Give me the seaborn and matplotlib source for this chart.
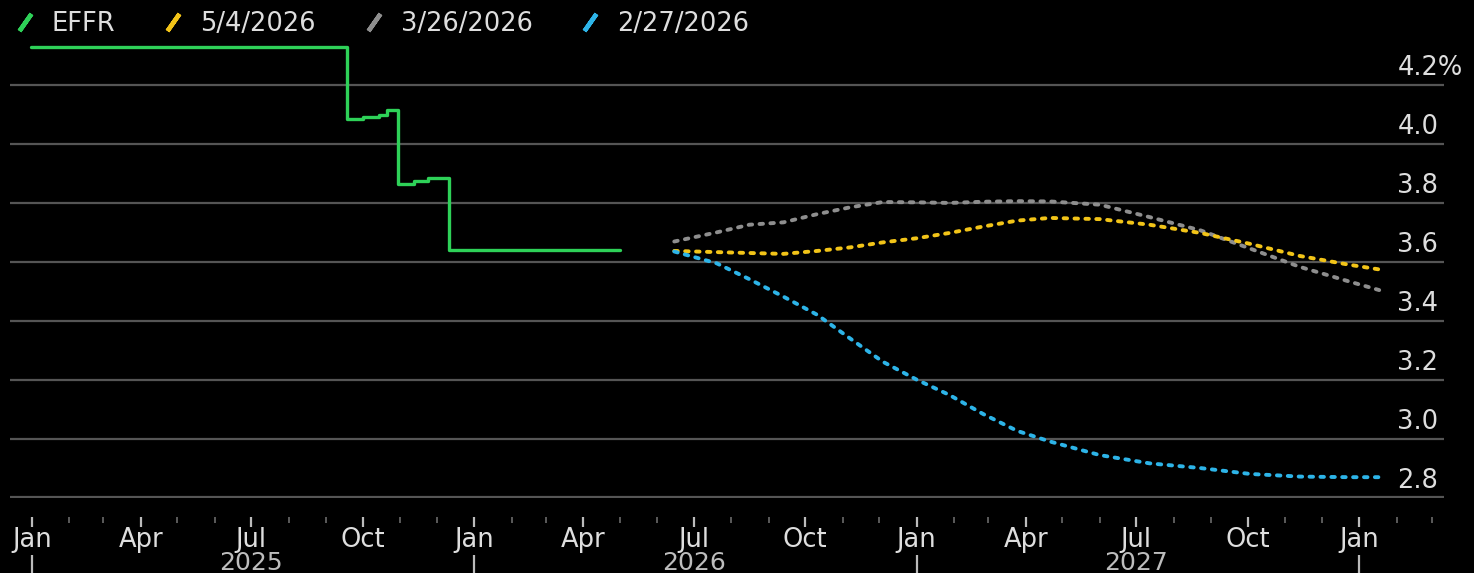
import pandas as pd
import seaborn as sns
import matplotlib.pyplot as plt
import matplotlib.dates as mdates
from matplotlib.lines import Line2D

# effective fed funds rate (step series)
effr_dates = ['2024-12-31', '2025-09-18', '2025-10-01', '2025-10-14', '2025-10-21',
              '2025-10-30', '2025-11-12', '2025-11-24', '2025-12-11', '2026-05-01']
effr_values = [4.33, 4.085, 4.09, 4.10, 4.115, 3.865, 3.875, 3.885, 3.64, 3.64]

# implied policy rate paths, priced on three dates
fwd_dates = ['2026-06-15', '2026-07-20', '2026-08-16', '2026-09-13', '2026-10-11',
             '2026-11-07', '2026-12-04', '2027-01-01', '2027-01-28', '2027-02-25',
             '2027-03-25', '2027-04-21', '2027-06-01', '2027-07-12', '2027-08-23',
             '2027-10-03', '2027-11-13', '2027-12-24', '2028-01-21']
fwd_0504 = [3.637, 3.633, 3.630, 3.627, 3.637, 3.649, 3.666, 3.680, 3.698, 3.720,
            3.740, 3.749, 3.745, 3.726, 3.698, 3.661, 3.620, 3.590, 3.572]
fwd_0326 = [3.669, 3.700, 3.726, 3.734, 3.762, 3.785, 3.803, 3.802, 3.800, 3.804,
            3.806, 3.805, 3.794, 3.752, 3.707, 3.645, 3.583, 3.533, 3.500]
fwd_0227 = [3.635, 3.595, 3.541, 3.482, 3.420, 3.340, 3.261, 3.200, 3.148, 3.083,
            3.026, 2.990, 2.944, 2.916, 2.900, 2.880, 2.871, 2.869, 2.869]

series_labels = ['EFFR', '5/4/2026', '3/26/2026', '2/27/2026']
series_colors = ['#2ed158', '#f2c418', '#8e8e8e', '#2db4e8']
y_ticks = [2.8, 3.0, 3.2, 3.4, 3.6, 3.8, 4.0, 4.2]
years = [2025, 2026, 2027]

sns.set_style('dark', {'axes.facecolor': 'black', 'figure.facecolor': 'black'})
plt.rcParams['font.family'] = ['DejaVu Sans']
txt = '#dedede'

fig = plt.figure(figsize=(14.74, 5.73), dpi=100, facecolor='black')
ax = fig.add_axes([10 / 1474, 1 - 497.5 / 573, 1434 / 1474, 462.5 / 573])
ax.set_facecolor('black')

effr = pd.DataFrame({'date': pd.to_datetime(effr_dates), 'rate': effr_values})
sns.lineplot(data=effr, x='date', y='rate', ax=ax, color=series_colors[0],
             lw=2.4, drawstyle='steps-post', estimator=None)

fd = pd.to_datetime(fwd_dates)
for vals, c in zip([fwd_0326, fwd_0504, fwd_0227],
                   [series_colors[2], series_colors[1], series_colors[3]]):
    sns.lineplot(x=fd, y=vals, ax=ax, color=c, lw=2.8, estimator=None,
                 linestyle=(0, (0.9, 1.9)), dash_capstyle='round')

ax.set_xlim(pd.Timestamp('2024-12-14'), pd.Timestamp('2028-03-11'))
ax.set_ylim(2.8, 4.37)
ax.set_xlabel('')
ax.set_ylabel('')

# horizontal grid + labels sitting above each line on the right
ax.set_yticks(y_ticks)
ax.tick_params(axis='y', left=False, right=False, labelleft=False)
ax.grid(axis='y', color='#555555', lw=1.6)
ax.grid(axis='x', visible=False)
for v in y_ticks:
    lab = f'{v:.1f}%' if v == y_ticks[-1] else f'{v:.1f}'
    ax.annotate(lab, xy=(0.9675, v), xycoords=('axes fraction', 'data'),
                xytext=(0, 12), textcoords='offset points', ha='left', va='center',
                fontsize=18.5, color=txt)

for s in ax.spines.values():
    s.set_visible(False)
ax.spines['bottom'].set_position(('outward', 14))

ax.xaxis.set_major_locator(mdates.MonthLocator(bymonth=[1, 4, 7, 10]))
ax.xaxis.set_minor_locator(mdates.MonthLocator())
ax.xaxis.set_major_formatter(mdates.DateFormatter('%b'))
ax.tick_params(axis='x', which='both', bottom=True, direction='out')
ax.tick_params(axis='x', which='major', length=7, width=1.6, color='#bbbbbb',
               labelsize=18.5, labelcolor=txt, pad=0)
ax.tick_params(axis='x', which='minor', length=4, width=1.2, color='#6a6a6a')

# year row
xt = ax.get_xaxis_transform()
for y in years:
    ax.text(mdates.date2num(pd.Timestamp(f'{y}-07-01')), -0.142, str(y), transform=xt,
            ha='center', va='center', fontsize=18, color='#bdbdbd')
ax.vlines([mdates.date2num(pd.Timestamp(f'{y}-01-01')) for y in years + [years[-1] + 1]],
          -0.125, -0.17, transform=xt, clip_on=False, colors='#bbbbbb', lw=1.6)

handles = [Line2D([], [], color=c, marker=(2, 2, -35), markersize=15,
                  markeredgewidth=3.2, linestyle='None') for c in series_colors]
fig.legend(handles, series_labels, loc='upper left', bbox_to_anchor=(-0.004, 1.012),
           ncol=4, frameon=False, fontsize=18.5, labelcolor=txt, handlelength=1.0,
           handletextpad=0.55, columnspacing=1.75, borderaxespad=0.3)

fig.savefig('out.png', dpi=100, facecolor='black')
